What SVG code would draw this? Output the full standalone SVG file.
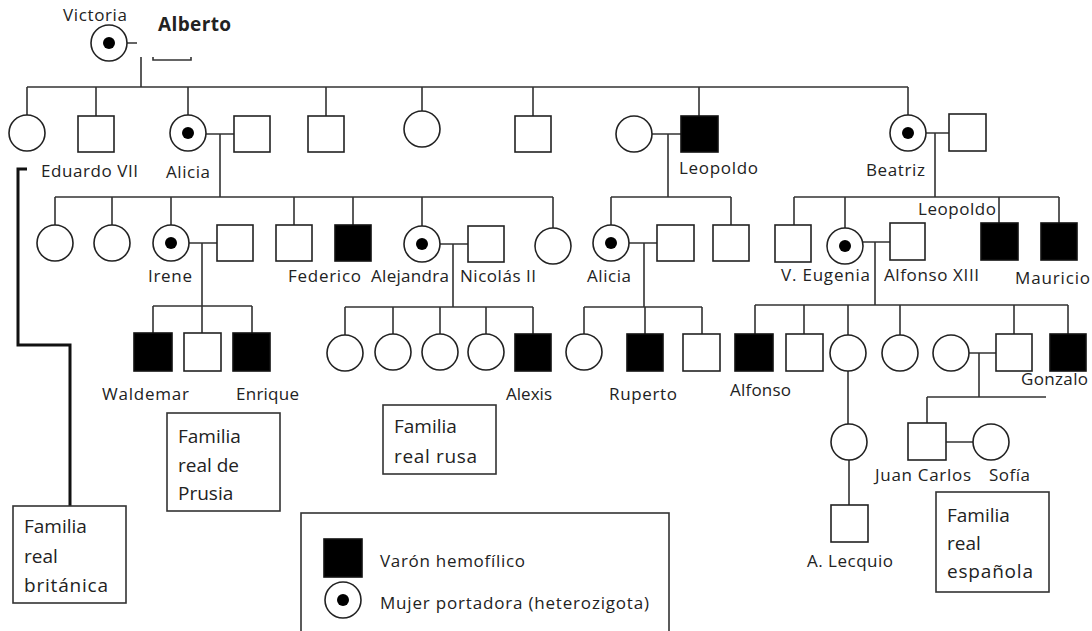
<svg xmlns="http://www.w3.org/2000/svg" width="1092" height="631" viewBox="0 0 1092 631">
<style>
.s{fill:#fff;stroke:#222;stroke-width:1.6}
.a{fill:#000;stroke:#111;stroke-width:1.6}
.d{fill:#000}
.c{fill:none;stroke:#333;stroke-width:1.6}
.t{font-family:"Open Sans","Noto Sans",sans-serif;font-size:17px;fill:#222}
.b{font-family:"Open Sans","Noto Sans",sans-serif;font-size:19px;fill:#222}
.bx{fill:#fff;stroke:#333;stroke-width:1.6}
</style>
<rect width="1092" height="631" fill="#fff"/>
<g id="connectors">
<path class="c" d="M127,43H137 M141,57V87 M27,87H908 M27,87V115 M96,87V116 M188,87V115 M326,87V116 M422,87V111 M533,87V116 M699,87V116 M908,87V115
M206,134H234 M220,134V197 M652,134H681 M668,134V197 M926,133H949 M935,133V197
M55,197H553 M55,197V225 M112,197V225 M171,197V225 M294,197V225 M353,197V225 M422,197V226 M553,197V228
M611,197H731 M611,197V225 M731,197V225
M794,197H1059 M794,197V225 M845,197V228 M999,197V223 M1059,197V223
M189,243H217 M202,243V306 M440,244H468 M453,244V307 M629,243H657 M644,243V307 M863,242H890 M875,242V305
M153,306H252 M153,306V333 M202,306V333 M252,306V333
M345,307H533 M345,307V335 M393,307V334 M440,307V334 M486,307V334 M533,307V334
M584,307H702 M584,307V334 M645,307V334 M702,307V334
M755,305H1068 M755,305V334 M804,305V334 M848,305V335 M900,305V335 M1014,305V334 M1068,305V334
M969,353H996 M979,353V397 M927,397H1046 M927,397V423 M946,442H973
M848,371V424 M849,460V505"/>
<path d="M27,169H18V345H70V506" fill="none" stroke="#111" stroke-width="3"/>
</g>
<g id="victoria"><circle class="s" cx="109" cy="43" r="18"/><circle class="d" cx="109" cy="43" r="6"/><text class="t" x="63" y="21" textLength="64">Victoria</text></g>
<g id="alberto"><path class="c" d="M153,57V60H191V57"/><text x="158" y="31" font-family="Open Sans,Noto Sans,sans-serif" font-size="19" font-weight="bold" fill="#222" textLength="73">Alberto</text></g>
<g id="hija1"><circle class="s" cx="27" cy="133" r="18"/></g>
<g id="eduardo"><rect class="s" x="78" y="116" width="36" height="36"/><text class="t" x="41" y="177" textLength="97">Eduardo VII</text></g>
<g id="alicia"><circle class="s" cx="188" cy="133" r="18"/><circle class="d" cx="188" cy="133" r="6"/><text class="t" x="166" y="178" textLength="44">Alicia</text></g>
<g id="alicia-esposo"><rect class="s" x="234" y="116" width="36" height="36"/></g>
<g id="hijo4"><rect class="s" x="308" y="116" width="36" height="36"/></g>
<g id="hija5"><circle class="s" cx="422" cy="129" r="18"/></g>
<g id="hijo6"><rect class="s" x="515" y="116" width="36" height="36"/></g>
<g id="leopoldo-esposa"><circle class="s" cx="634" cy="134" r="18"/></g>
<g id="leopoldo"><rect class="a" x="681" y="116" width="37" height="36"/><text class="t" x="679" y="174" textLength="79">Leopoldo</text></g>
<g id="beatriz"><circle class="s" cx="908" cy="133" r="18"/><circle class="d" cx="908" cy="133" r="6"/><text class="t" x="866" y="176" textLength="59">Beatriz</text></g>
<g id="beatriz-esposo"><rect class="s" x="949" y="114" width="37" height="37"/></g>

<g id="n3a"><circle class="s" cx="55" cy="243" r="18"/></g>
<g id="n3b"><circle class="s" cx="112" cy="243" r="18"/></g>
<g id="irene"><circle class="s" cx="171" cy="243" r="18"/><circle class="d" cx="171" cy="243" r="6"/><text class="t" x="148" y="282" textLength="44">Irene</text></g>
<g id="irene-esposo"><rect class="s" x="217" y="225" width="36" height="36"/></g>
<g id="n3c"><rect class="s" x="276" y="225" width="36" height="36"/></g>
<g id="federico"><rect class="a" x="335" y="225" width="36" height="36"/><text class="t" x="288" y="282" textLength="73">Federico</text></g>
<g id="alejandra"><circle class="s" cx="422" cy="244" r="18"/><circle class="d" cx="422" cy="244" r="6"/><text class="t" x="371" y="282" textLength="78">Alejandra</text></g>
<g id="nicolas"><rect class="s" x="468" y="226" width="36" height="36"/><text class="t" x="460" y="282" textLength="76">Nicolás II</text></g>
<g id="n3d"><circle class="s" cx="553" cy="246" r="18"/></g>
<g id="alicia2"><circle class="s" cx="611" cy="243" r="18"/><circle class="d" cx="611" cy="243" r="6"/><text class="t" x="587" y="282" textLength="44">Alicia</text></g>
<g id="alicia2-esposo"><rect class="s" x="657" y="225" width="37" height="36"/></g>
<g id="n3e"><rect class="s" x="713" y="225" width="36" height="36"/></g>
<g id="n3f"><rect class="s" x="775" y="225" width="36" height="37"/></g>
<g id="eugenia"><circle class="s" cx="845" cy="246" r="18"/><circle class="d" cx="845" cy="246" r="6"/><text class="t" x="781" y="281" textLength="89">V. Eugenia</text></g>
<g id="alfonso13"><rect class="s" x="890" y="223" width="35" height="37"/><text class="t" x="884" y="281" textLength="95">Alfonso XIII</text></g>
<g id="leopoldo2"><rect class="a" x="981" y="223" width="37" height="37"/><text class="t" x="918" y="215" textLength="78">Leopoldo</text></g>
<g id="mauricio"><rect class="a" x="1041" y="223" width="36" height="37"/><text class="t" x="1015" y="284" textLength="75">Mauricio</text></g>

<g id="waldemar"><rect class="a" x="134" y="333" width="38" height="38"/><text class="t" x="102" y="400" textLength="87">Waldemar</text></g>
<g id="n4a"><rect class="s" x="184" y="333" width="37" height="38"/></g>
<g id="enrique"><rect class="a" x="233" y="333" width="37" height="38"/><text class="t" x="236" y="400" textLength="63">Enrique</text></g>
<g id="n4b"><circle class="s" cx="345" cy="353" r="18"/></g>
<g id="n4c"><circle class="s" cx="393" cy="352" r="18"/></g>
<g id="n4d"><circle class="s" cx="440" cy="352" r="18"/></g>
<g id="n4e"><circle class="s" cx="486" cy="352" r="18"/></g>
<g id="alexis"><rect class="a" x="515" y="334" width="36" height="37"/><text class="t" x="506" y="400" textLength="46">Alexis</text></g>
<g id="n4f"><circle class="s" cx="584" cy="352" r="18"/></g>
<g id="ruperto"><rect class="a" x="627" y="334" width="36" height="37"/><text class="t" x="609" y="400" textLength="68">Ruperto</text></g>
<g id="n4g"><rect class="s" x="683" y="334" width="37" height="37"/></g>
<g id="alfonso"><rect class="a" x="735" y="334" width="38" height="37"/><text class="t" x="730" y="396" textLength="61">Alfonso</text></g>
<g id="n4h"><rect class="s" x="786" y="334" width="37" height="37"/></g>
<g id="n4i"><circle class="s" cx="848" cy="353" r="18"/></g>
<g id="n4j"><circle class="s" cx="900" cy="353" r="18"/></g>
<g id="n4k"><circle class="s" cx="951" cy="353" r="18"/></g>
<g id="n4l"><rect class="s" x="996" y="334" width="36" height="37"/></g>
<g id="gonzalo"><rect class="a" x="1050" y="334" width="36" height="37"/><text class="t" x="1021" y="385" textLength="67">Gonzalo</text></g>
<g id="n5a"><circle class="s" cx="849" cy="442" r="18"/></g>
<g id="lecquio"><rect class="s" x="831" y="505" width="37" height="37"/><text class="t" x="807" y="567" textLength="86">A. Lecquio</text></g>
<g id="juancarlos"><rect class="s" x="908" y="423" width="38" height="37"/><text class="t" x="875" y="481" textLength="96">Juan Carlos</text></g>
<g id="sofia"><circle class="s" cx="991" cy="442" r="18"/><text class="t" x="989" y="481" textLength="41">Sofía</text></g>

<g id="box-britanica"><rect class="bx" x="13" y="506" width="113" height="97"/><text class="b" x="24" y="533">Familia</text><text class="b" x="24" y="563">real</text><text class="b" x="24" y="592" textLength="84">británica</text></g>
<g id="box-prusia"><rect class="bx" x="167" y="413" width="113" height="98"/><text class="b" x="178" y="443">Familia</text><text class="b" x="178" y="472">real de</text><text class="b" x="178" y="500">Prusia</text></g>
<g id="box-rusa"><rect class="bx" x="383" y="405" width="113" height="69"/><text class="b" x="394" y="433">Familia</text><text class="b" x="394" y="463" textLength="83">real rusa</text></g>
<g id="box-espanola"><rect class="bx" x="936" y="492" width="113" height="100"/><text class="b" x="947" y="522">Familia</text><text class="b" x="947" y="550">real</text><text class="b" x="947" y="578" textLength="86">española</text></g>
<g id="leyenda"><rect class="bx" x="301" y="513" width="368" height="125"/><rect class="a" x="324" y="539" width="38" height="38"/><circle class="s" cx="343" cy="600" r="18"/><circle class="d" cx="343" cy="600" r="6"/><text class="t" x="380" y="567" font-size="18" textLength="145">Varón hemofílico</text><text class="t" x="380" y="609" font-size="18" textLength="269">Mujer portadora (heterozigota)</text></g>
</svg>
